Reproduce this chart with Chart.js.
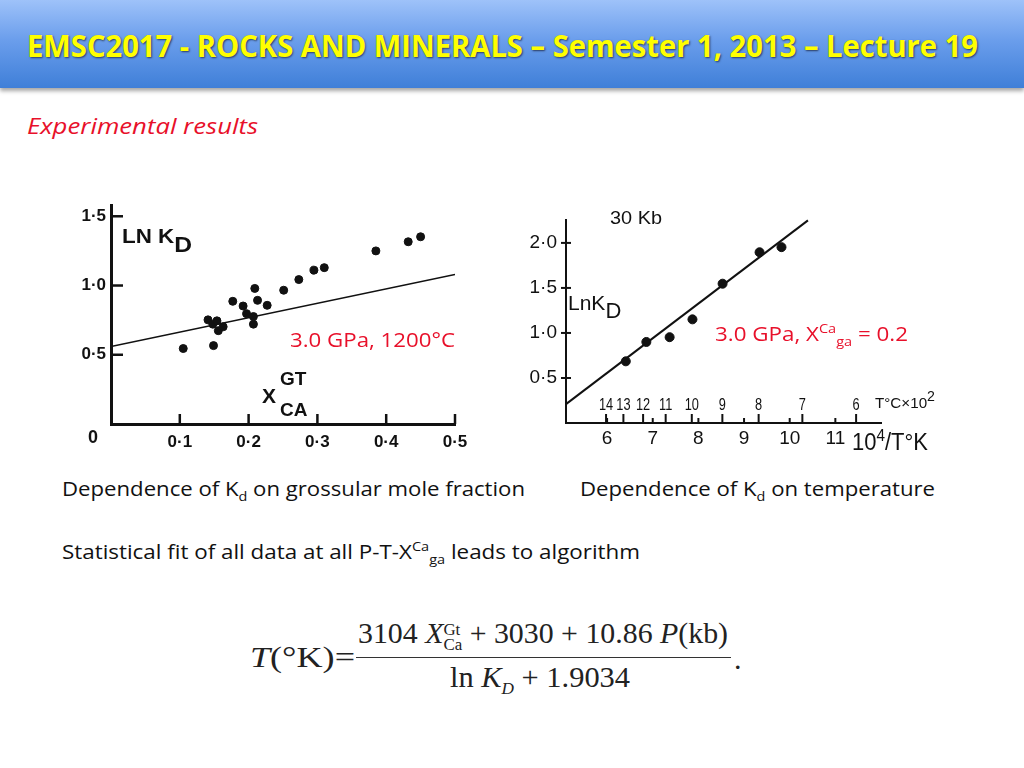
<!DOCTYPE html>
<html>
<head>
<meta charset="utf-8">
<script src="https://cdn.jsdelivr.net/npm/chart.js@4.4.1/dist/chart.umd.min.js"></script>
<style>
  html, body { margin: 0; padding: 0; background: #fff; }
  body { width: 1024px; height: 768px; position: relative; overflow: hidden; font-family: "Open Sans", "Liberation Sans", sans-serif; }
  .abs { position: absolute; white-space: nowrap; line-height: 1; }
  .fit { transform-origin: 0 50%; display: inline-block; }
  #header { position: absolute; left: 0; top: 0; width: 1024px; height: 88px;
    background: linear-gradient(#9ec2f9, #6b9eec 45%, #3f7fd8);
    box-shadow: 0 3px 4px rgba(0,0,0,0.35); }
  #title { color: #ffff00; font-weight: bold; font-size: 30px; text-shadow: 1px 1px 2px #2a3a60; }
  .cap { font-size: 20px; color: #111; }
  .red { color: #e8102a; font-size: 20px; }
  .fig { font-family: "Liberation Sans", Arial, sans-serif; color: #111; }
  sub, sup { font-size: 65%; line-height: 0; }
  .serif { font-family: "Liberation Serif", "DejaVu Serif", serif; font-size: 30px; color: #222; }
  .wrap { position: absolute; }
</style>
</head>
<body>
<div id="header"></div>
<div class="abs" style="left:27px; top:31px;"><span id="title" class="fit" data-w="951">EMSC2017 - ROCKS AND MINERALS – Semester 1, 2013 – Lecture 19</span></div>

<div class="abs" style="left:27px; top:114px;"><span class="fit red" style="font-style:italic; font-size:22px;" data-w="231">Experimental results</span></div>

<div class="wrap" style="left:60px; top:190px; width:420px; height:270px;"><canvas id="left"></canvas></div>
<div class="wrap" style="left:520px; top:200px; width:420px; height:270px;"><canvas id="right"></canvas></div>

<!-- labels inside the left figure -->
<div class="abs fig" style="left:122px; top:226px;"><span class="fit" style="font-weight:bold; font-size:20px;" data-w="70">LN K<sub style="font-size:22px; vertical-align:-9px;">D</sub></span></div>
<div class="abs fig" style="left:88px; top:428px; font-weight:bold; font-size:18px;">0</div>
<div class="abs fig" style="left:262px; top:385px; font-weight:bold; font-size:21px;">X</div>
<div class="abs fig" style="left:280px; top:369px; font-weight:bold; font-size:19px;">GT</div>
<div class="abs fig" style="left:280px; top:400px; font-weight:bold; font-size:19px;">CA</div>
<div class="abs" style="left:290px; top:330px;"><span class="fit red" data-w="165">3.0 GPa, 1200°C</span></div>

<!-- labels inside the right figure -->
<div class="abs fig" style="left:610px; top:209px;"><span class="fit" style="font-size:18px;" data-w="52">30 Kb</span></div>
<div class="abs fig" style="left:568px; top:292px; font-size:21px;">LnK<sub style="font-size:22px; vertical-align:-8px;">D</sub></div>
<div class="abs fig" style="left:852px; top:431px;"><span class="fit" style="font-size:23px;" data-w="76">10<sup style="font-size:16px; vertical-align:9px;">4</sup>/T°K</span></div>
<div class="abs fig" style="left:875px; top:395px;"><span class="fit" style="font-size:15px;" data-w="60">T°C×10<sup style="font-size:14px; vertical-align:7px;">2</sup></span></div>
<div class="abs" style="left:715px; top:324px;"><span class="fit red" data-w="193">3.0 GPa, X<sup>Ca</sup><sub>ga</sub> = 0.2</span></div>

<!-- captions -->
<div class="abs" style="left:62px; top:479px;"><span class="fit cap" data-w="463">Dependence of K<sub>d</sub> on grossular mole fraction</span></div>
<div class="abs" style="left:580px; top:479px;"><span class="fit cap" data-w="355">Dependence of K<sub>d</sub> on temperature</span></div>
<div class="abs" style="left:62px; top:542px;"><span class="fit cap" data-w="578">Statistical fit of all data at all P-T-X<sup>Ca</sup><sub>ga</sub> leads to algorithm</span></div>

<!-- formula -->
<div class="abs serif" style="left:250px; top:642px;"><span class="fit" data-w="105"><i>T</i>(°K)=</span></div>
<div class="abs serif" style="left:358px; top:618px;"><span class="fit" data-w="370">3104 <i>X</i><span style="display:inline-block; vertical-align:-7px; font-size:17px; line-height:15px; text-align:left;">Gt<br>Ca</span> + 3030 + 10.86 <i>P</i>(kb)</span></div>
<div class="abs" style="left:356px; top:657px; width:375px; height:1px; background:#333;"></div>
<div class="abs serif" style="left:450px; top:662px;"><span class="fit" data-w="180">ln <i>K</i><sub style="font-size:17px; vertical-align:-7px;"><i>D</i></sub> + 1.9034</span></div>
<div class="abs serif" style="left:734px; top:644px;">.</div>

<script>
// left figure: ln KD vs X Ca (garnet)
const xCa = [0.105, 0.149, 0.141, 0.148, 0.154, 0.156, 0.163, 0.177, 0.192, 0.197, 0.207, 0.207, 0.209, 0.213, 0.227, 0.251, 0.273, 0.295, 0.310, 0.385, 0.432, 0.450];
const lnKdX = [0.545, 0.566, 0.752, 0.721, 0.745, 0.674, 0.702, 0.886, 0.852, 0.797, 0.721, 0.776, 0.979, 0.893, 0.857, 0.966, 1.043, 1.111, 1.129, 1.250, 1.316, 1.352];
const fitX = [0, 0.5];
const fitXy = [0.56, 1.08];
const leftXTicks = [0.1, 0.2, 0.3, 0.4, 0.5];
const leftYTicks = [0.5, 1.0, 1.5];

// right figure: ln KD vs 10^4/T
const invT = [6.41, 6.86, 7.37, 7.87, 8.53, 9.34, 9.82];
const lnKdT = [0.685, 0.90, 0.953, 1.151, 1.547, 1.896, 1.953];
const fitT = [5.1, 10.4];
const fitTy = [0.21, 2.25];
const rightXTicks = [6, 7, 8, 9, 10, 11];
const rightYTicks = [0.5, 1.0, 1.5, 2.0];
const tempC = [14, 13, 12, 11, 10, 9, 8, 7, 6]; // T°C x 10^2

const pts = (xs, ys) => xs.map((x, i) => ({ x: x, y: ys[i] }));
const dot = v => v.toFixed(1).replace(".", "·");

// ticks that point into the plot, plus the T°C scale on the right figure
const inTicks = {
  id: "inTicks",
  afterDraw(chart, args, o) {
    const ctx = chart.ctx, xs = chart.scales.x, ys = chart.scales.y;
    ctx.save();
    ctx.strokeStyle = "#111";
    ctx.lineWidth = o.width;
    xs.ticks.forEach(t => {
      const px = xs.getPixelForValue(t.value);
      ctx.beginPath(); ctx.moveTo(px, xs.top); ctx.lineTo(px, xs.top - o.xLen); ctx.stroke();
    });
    ys.ticks.forEach(t => {
      const py = ys.getPixelForValue(t.value);
      ctx.beginPath(); ctx.moveTo(ys.right - o.yOut, py); ctx.lineTo(ys.right + o.yLen, py); ctx.stroke();
    });
    if (o.temps) {
      ctx.fillStyle = "#111";
      ctx.textAlign = "center";
      ctx.textBaseline = "bottom";
      o.temps.forEach(t => {
        const px = xs.getPixelForValue(1e4 / (t * 100 + 273));
        ctx.beginPath(); ctx.moveTo(px, xs.top); ctx.lineTo(px, xs.top - 9); ctx.stroke();
        // narrow digits, like the hand-lettered original
        ctx.save();
        ctx.translate(px, xs.top - 9);
        ctx.scale(0.8, 1);
        ctx.font = "16px 'Liberation Sans', sans-serif";
        ctx.fillText(String(t), 0, 0);
        ctx.restore();
      });
    }
    ctx.restore();
  }
};

function axes(c) {
  return {
    x: {
      type: "linear", min: c.xMin, max: c.xMax,
      afterBuildTicks: s => { s.ticks = c.xTicks.map(v => ({ value: v })); },
      afterFit: s => { s.height = c.xH; },
      grid: { drawOnChartArea: false, drawTicks: false },
      border: { color: "#111", width: c.bw },
      ticks: { color: "#111", padding: c.xPad, maxRotation: 0, font: c.font, callback: c.xFmt }
    },
    y: {
      type: "linear", min: 0, max: c.yMax,
      afterBuildTicks: s => { s.ticks = c.yTicks.map(v => ({ value: v })); },
      afterFit: s => { s.width = c.yW; },
      grid: { drawOnChartArea: false, drawTicks: false },
      border: { color: "#111", width: c.bw },
      ticks: { color: "#111", padding: c.yPad, font: c.font, callback: v => dot(v) }
    }
  };
}

new Chart(document.getElementById("left"), {
  type: "scatter",
  data: {
    datasets: [
      { data: pts(xCa, lnKdX), backgroundColor: "#111", borderColor: "#111", pointRadius: 4 },
      { type: "line", data: pts(fitX, fitXy), borderColor: "#111", borderWidth: 1.5, pointRadius: 0, fill: false }
    ]
  },
  options: {
    responsive: true, maintainAspectRatio: false, animation: false,
    layout: { padding: { top: 13, right: 25 } },
    plugins: { legend: { display: false }, tooltip: { enabled: false },
      inTicks: { width: 2.5, xLen: 10, yLen: 12, yOut: 0 } },
    scales: axes({ xMin: 0, xMax: 0.5, yMax: 1.58, xTicks: leftXTicks, yTicks: leftYTicks,
      xH: 36, yW: 51, xPad: 8, yPad: 5, bw: 3,
      font: { family: "Liberation Sans", size: 17, weight: "bold" }, xFmt: v => dot(v) })
  },
  plugins: [inTicks]
});

new Chart(document.getElementById("right"), {
  type: "scatter",
  data: {
    datasets: [
      { data: pts(invT, lnKdT), backgroundColor: "#111", borderColor: "#111", pointRadius: 4.5 },
      { type: "line", data: pts(fitT, fitTy), borderColor: "#111", borderWidth: 2, pointRadius: 0, fill: false, clip: false }
    ]
  },
  options: {
    responsive: true, maintainAspectRatio: false, animation: false,
    layout: { padding: { top: 11, right: 59 } },
    plugins: { legend: { display: false }, tooltip: { enabled: false },
      inTicks: { width: 2, xLen: 5, yLen: 5, yOut: 5, temps: tempC } },
    scales: axes({ xMin: 5.1, xMax: 12, yMax: 2.25, xTicks: rightXTicks, yTicks: rightYTicks,
      xH: 47, yW: 46, xPad: 4, yPad: 9, bw: 2,
      font: { family: "Liberation Sans", size: 19 }, xFmt: v => String(v) })
  },
  plugins: [inTicks]
});

// squeeze slide texts to the widths they take in the slide
document.querySelectorAll(".fit").forEach(el => {
  const w = el.getBoundingClientRect().width;
  const k = parseFloat(el.dataset.w) / w;
  el.style.transform = "scaleX(" + k + ")";
});
</script>
</body>
</html>
